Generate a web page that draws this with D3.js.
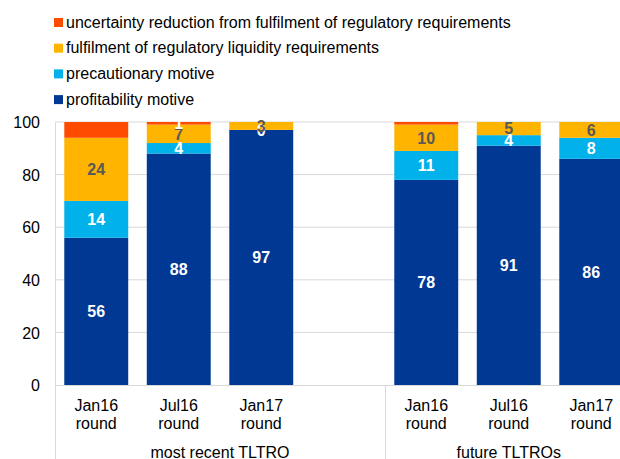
<!DOCTYPE html>
<html>
<head>
<meta charset="utf-8">
<script src="https://cdn.jsdelivr.net/npm/d3@7"></script>
<style>
  body { margin: 0; background: #fff; }
  svg { display: block; font-family: "Liberation Sans", Arial, sans-serif; }
  .tick text { font-size: 16px; fill: #000; }
</style>
</head>
<body>
<div id="chart"></div>
<script>
// categories (slot 3 is an empty spacer between the two groups)
const categories = ["Jan16|round", "Jul16|round", "Jan17|round", "", "Jan16|round", "Jul16|round", "Jan17|round"];
const groups = [
    { name: "most recent TLTRO", first: 0, last: 3 },
    { name: "future TLTROs", first: 4, last: 6 }
];

// series values (per cent)
const profitability = [56, 88, 97, null, 78, 91, 86];
const precautionary = [14, 4, 0, null, 11, 4, 8];
const liquidity = [24, 7, 3, null, 10, 5, 6];
const uncertainty = [6, 1, 0, null, 1, 0, 0];
const uncertaintyLabelShown = [false, true, false, false, false, false, false];

const yTicks = [0, 20, 40, 60, 80, 100];

const series = [
    { name: "profitability motive", values: profitability, color: "#003894", labelColor: "#fff" },
    { name: "precautionary motive", values: precautionary, color: "#00b1ea", labelColor: "#fff" },
    { name: "fulfilment of regulatory liquidity requirements", values: liquidity, color: "#ffb400", labelColor: "#595959" },
    { name: "uncertainty reduction from fulfilment of regulatory requirements", values: uncertainty, color: "#ff4b00", labelColor: "#fff", shown: uncertaintyLabelShown }
];

const width = 620, height = 459;
const margin = { top: 122, left: 55, bottom: 385 };
const plotRight = 632.5;

const svg = d3.select('#chart').append('svg')
    .attr('width', width)
    .attr('height', height);

const x = d3.scaleBand()
    .domain(d3.range(categories.length))
    .range([margin.left, plotRight])
    .paddingInner(0.225)
    .paddingOuter(0.1125);

const y = d3.scaleLinear()
    .domain([0, 100])
    .range([margin.bottom, margin.top]);

// gridlines
svg.append('g')
    .selectAll('line')
    .data(yTicks.filter(d => d > 0))
    .enter()
    .append('line')
    .attr('x1', margin.left)
    .attr('x2', plotRight)
    .attr('y1', d => y(d))
    .attr('y2', d => y(d))
    .attr('stroke', '#d9d9d9')
    .attr('stroke-width', 1);

// y axis
const yAxis = svg.append('g')
    .attr('transform', `translate(${margin.left},0)`)
    .call(d3.axisLeft(y).tickValues(yTicks).tickSize(0).tickPadding(15));
yAxis.select('.domain').attr('stroke', '#d9d9d9');
yAxis.selectAll('.tick text').attr('dy', '0.35em');

// stacked bars
const stackData = categories.map((c, i) => {
    const row = { i };
    series.forEach((s, k) => row[k] = s.values[i] || 0);
    return row;
});
const stacked = d3.stack().keys(series.map((s, k) => k))(stackData);

const layers = svg.append('g')
    .selectAll('g')
    .data(stacked)
    .enter()
    .append('g')
    .attr('fill', d => series[d.key].color);

layers.selectAll('rect')
    .data(d => d.filter(p => series[0].values[p.data.i] !== null))
    .enter()
    .append('rect')
    .attr('x', d => x(d.data.i))
    .attr('width', x.bandwidth())
    .attr('y', d => y(d[1]))
    .attr('height', d => y(d[0]) - y(d[1]));

// x axis line
svg.append('line')
    .attr('x1', margin.left)
    .attr('x2', plotRight)
    .attr('y1', margin.bottom + 0.5)
    .attr('y2', margin.bottom + 0.5)
    .attr('stroke', '#d9d9d9');

// data labels
stacked.forEach(layer => {
    const s = series[layer.key];
    svg.append('g')
        .selectAll('text')
        .data(layer.filter(p => s.values[p.data.i] !== null && (!s.shown || s.shown[p.data.i])))
        .enter()
        .append('text')
        .attr('x', d => x(d.data.i) + x.bandwidth() / 2)
        .attr('y', d => y((d[0] + d[1]) / 2))
        .attr('dy', '0.36em')
        .attr('text-anchor', 'middle')
        .attr('font-size', 16)
        .attr('font-weight', 'bold')
        .attr('fill', s.labelColor)
        .text(d => s.values[d.data.i]);
});

// category labels
const catLabels = svg.append('g')
    .selectAll('text')
    .data(categories.map((c, i) => ({ c, i })).filter(d => d.c))
    .enter()
    .append('text')
    .attr('x', d => x(d.i) + x.bandwidth() / 2)
    .attr('text-anchor', 'middle')
    .attr('font-size', 16)
    .attr('fill', '#000');
catLabels.each(function(d) {
    d.c.split('|').forEach((line, k) => {
        d3.select(this).append('tspan')
            .attr('x', x(d.i) + x.bandwidth() / 2)
            .attr('y', 411 + k * 18)
            .text(line);
    });
});

// group separators and labels
const step = x.step();
const groupEdges = [margin.left, margin.left + 4 * step, plotRight];
svg.append('g')
    .selectAll('line')
    .data(groupEdges)
    .enter()
    .append('line')
    .attr('x1', d => Math.round(d) + 0.5)
    .attr('x2', d => Math.round(d) + 0.5)
    .attr('y1', margin.bottom)
    .attr('y2', height)
    .attr('stroke', '#d9d9d9');

svg.append('g')
    .selectAll('text')
    .data(groups)
    .enter()
    .append('text')
    .attr('x', d => margin.left + (d.first + (d.last + 1)) / 2 * step)
    .attr('y', 458)
    .attr('text-anchor', 'middle')
    .attr('font-size', 16)
    .attr('fill', '#000')
    .text(d => d.name);

// legend (reverse order, top entry is the top of the stack)
const legend = svg.append('g')
    .selectAll('g')
    .data(series.slice().reverse())
    .enter()
    .append('g')
    .attr('transform', (d, i) => `translate(54, ${22 + i * 25.7})`);
legend.append('rect')
    .attr('x', 0)
    .attr('y', -4)
    .attr('width', 9)
    .attr('height', 9)
    .attr('fill', d => d.color);
legend.append('text')
    .attr('x', 12)
    .attr('y', 0)
    .attr('dy', '0.36em')
    .attr('font-size', 16)
    .attr('fill', '#000')
    .text(d => d.name);
</script>
</body>
</html>
